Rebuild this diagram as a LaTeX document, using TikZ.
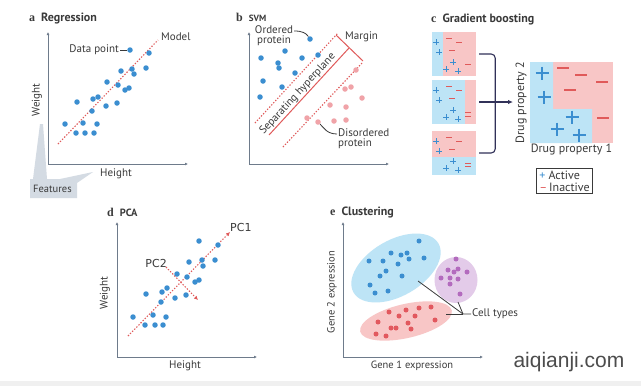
\documentclass[tikz,border=0pt]{standalone}
\usepackage{fontspec}
\setmainfont{PT Sans}
\newfontfamily\letterfont{Liberation Serif}
\newfontfamily\pcfont{DejaVu Sans}
\newfontfamily\markfont{Liberation Sans}
\usetikzlibrary{positioning,arrows.meta,shapes.geometric}

\definecolor{dotblue}{HTML}{3B8ED0}
\definecolor{linered}{HTML}{E05A5A}
\definecolor{dotpink}{HTML}{F0A3A8}
\definecolor{dotred}{HTML}{E2585E}
\definecolor{dotpurple}{HTML}{B36BBE}
\definecolor{fillblue}{HTML}{BDE4F6}
\definecolor{fillpink}{HTML}{F8C6C6}
\definecolor{fillpurple}{HTML}{E3CBE9}
\definecolor{axisgray}{HTML}{6E7B8B}
\definecolor{txtdark}{HTML}{3A3A3A}
\definecolor{callgray}{HTML}{D4DBE3}

\tikzset{
  dotb/.style={circle,fill=dotblue,inner sep=0pt,minimum size=5.5pt},
  dotp/.style={dotb,fill=dotpink},
  axis/.style={draw=axisgray,line width=1pt,{Latex[length=3pt,width=3pt]}-{Latex[length=3pt,width=3pt]}},
  redline/.style={draw=linered,line width=1.1pt,dash pattern=on 1.3pt off 1.7pt},
  panel/.style={anchor=west,font=\bfseries\fontsize{12}{13}\selectfont,text=txtdark,inner sep=0pt},
  lbl/.style={text=txtdark,inner sep=1pt,font=\fontsize{11}{12}\selectfont},
  pointer/.style={draw=txtdark,line width=0.8pt},
  bracket/.style={draw=txtdark!85!blue,line width=1.1pt,rounded corners=4pt},
  smallbox/.style={inner sep=0pt,minimum width=44pt,minimum height=44pt,fill=fillpink},
  plusmark/.pic={\draw[dotblue,line width=0.8pt] (-2.8,0)--(2.8,0) (0,-2.8)--(0,2.8);},
  minusmark/.pic={\draw[linered,line width=0.8pt] (-2.8,0)--(2.8,0);},
  bigplus/.pic={\draw[dotblue,line width=1.3pt] (-6.5,0)--(6.5,0) (0,-6.5)--(0,6.5);},
  bigminus/.pic={\draw[linered,line width=1.3pt] (-6,0)--(6,0);}
}

\begin{document}
\begin{tikzpicture}[x=1pt,y=-1pt]
\useasboundingbox (0,0) rectangle (641,386);
\fill[white] (0,0) rectangle (641,386);
\fill[gray!12] (0,381) rectangle (641,386);

% a Regression
\node[panel] (atitle) at (29,19) {{\letterfont a}\enspace Regression};
\fill[callgray] (30,198) -- (30,179) -- (33,179) -- (40,124) -- (43,124) -- (47,179)
  -- (60,179) -- (93,172) -- (77,183) -- (77,198) -- cycle;
\node[lbl,anchor=west,font=\fontsize{10.5}{12}\selectfont] (afeat) at (32,189) {Features};
\coordinate (aY) at (48,32); \coordinate (aO) at (48,164); \coordinate (aX) at (188,164);
\draw[axis] (aY) -- (aO) -- (aX);
\node[lbl,rotate=90] (aylab) at (37,100) {Weight};
\node[lbl] (axlab) at (116,174) {Height};
\coordinate (am1) at (58,144); \coordinate (am2) at (158,40);
\draw[redline] (am1) -- (am2);
\node[lbl,anchor=west] (amodel) at (160,37) {Model};
\foreach \px/\py in {65/124,77/102,76/133,83/123,85/133,94/133,97/124,92/111,
  93/99,98/97,106/106,107/82,117/103,118/85,121/71,125/90,129/88,132/69,134/74,146/68,149/53}
  \fill[dotblue] (\px,\py) circle (2.75);
\node[dotb] (adp) at (130,50) {};
\node[lbl,anchor=east] (adplab) at (120,50) {Data point};
\draw[pointer] (adplab.east) -- (adp.west);

% b SVM
\node[panel] (btitle) at (236,17) {{\letterfont b}\enspace\fontsize{9}{11}\selectfont SVM};
\coordinate (bY) at (249,32); \coordinate (bO) at (249,164); \coordinate (bX) at (389,164);
\draw[axis] (bY) -- (bO) -- (bX);
\coordinate (bu1) at (255,123); \coordinate (bu2) at (338,33);
\coordinate (bs1) at (269,135); \coordinate (bs2) at (349,48);
\coordinate (bl1) at (283,147); \coordinate (bl2) at (363,62);
\coordinate (bm1) at (336,35); \coordinate (bm2) at (363,61);
\draw[redline] (bu1) -- (bu2);
\draw[redline] (bl1) -- (bl2);
\draw[linered,line width=1pt] (bs1) -- node[lbl,sloped,above=0pt,pos=0.42] {Separating hyperplane} (bs2);
\draw[linered,line width=1pt] (bm1) -- (bm2);
\node[lbl,anchor=west] (bmargin) at (344,37) {Margin};
\foreach \px/\py in {261/58,285/51,278/63,279/68,302/58,318/55,295/73,263/81,282/87,260/97}
  \fill[dotblue] (\px,\py) circle (2.75);
\foreach \px/\py in {356/70,345/89,351/87,362/98,330/105,346/107,307/118,334/121,346/120}
  \fill[dotpink] (\px,\py) circle (2.75);
\node[dotb] (bodot) at (310,39) {};
\node[dotp] (bddot) at (318,122) {};
\node[lbl,align=center] (bop) at (274,36) {Ordered\\[-2pt]protein};
\node[lbl,align=left,anchor=west] (bdp) at (337,139) {Disordered\\[-2pt]protein};
\draw[pointer] ([yshift=5pt]bop.east) .. controls +(8,0) and +(-4,-6) .. (bodot);
\draw[pointer] ([yshift=5pt]bdp.west) .. controls +(-10,0) and +(6,6) .. (bddot);

% c Gradient boosting
\node[panel] (ctitle) at (431,19) {{\letterfont c}\enspace Gradient boosting};
\node[smallbox] (c1) at (454,54) {};
\node[smallbox] (c2) at (454,102) {};
\node[smallbox] (c3) at (454,153) {};
\fill[fillblue] (432,32) rectangle (443,76);
\fill[fillblue] (432,80) rectangle (465,124);
\fill[fillblue] (432,157) rectangle (476,175);
\foreach \dy in {0,48,99} {
  \foreach \px/\py in {436/42,439/52,453/62,446/69,458/71}
    \pic at (\px,\py+\dy) {plusmark};
  \foreach \px/\py in {449/38,459/42,452/50,468/64}
    \pic at (\px,\py+\dy) {minusmark};
}
\pic at (468,116) {minusmark};
\pic at (468,166) {minusmark};
\draw[bracket] ([xshift=3pt]c1.east) -- ++(16,0) |- ([xshift=3pt]c3.east);
\coordinate (carr) at (513,102);
\draw[bracket,-{Latex[length=5pt,width=4.5pt]}] ([xshift=3pt]c2.east) -- (carr);
\node[inner sep=0pt,minimum width=83pt,minimum height=81pt,fill=fillpink] (cbig) at (571.5,102.5) {};
\fill[fillblue] (530,62) -- (553,62) -- (553,109) -- (592,109) -- (592,143) -- (530,143) -- cycle;
\foreach \px/\py in {542/73,544/97,572/117,557/129,579/135}
  \pic at (\px,\py) {bigplus};
\foreach \px/\py in {563/68,581/75,602/82,570/90,603/118}
  \pic at (\px,\py) {bigminus};
\node[lbl,rotate=90,anchor=south,font=\fontsize{12}{13}\selectfont] (cylab) at ([xshift=-2pt]cbig.west) {Drug property 2};
\node[lbl,below=0pt of cbig,font=\fontsize{12}{13}\selectfont] (cxlab) {Drug property 1};
\node[lbl,draw=txtdark,line width=0.8pt,align=left,inner sep=2.5pt,font=\fontsize{12}{12}\selectfont]
  (clegend) at (564.5,181) {{\color{dotblue}+} Active\\{\color{linered}\textendash}\,Inactive};

% d PCA
\node[panel] (dtitle) at (107,212) {{\letterfont d}\enspace\fontsize{10.5}{12}\selectfont PCA};
\coordinate (dY) at (117,222); \coordinate (dO) at (117,357); \coordinate (dX) at (257,357);
\draw[axis] (dY) -- (dO) -- (dX);
\node[lbl,rotate=90] (dylab) at (105,293) {Weight};
\node[lbl] (dxlab) at (185,366) {Height};
\coordinate (dp1s) at (128,336); \coordinate (dp1e) at (230,232);
\coordinate (dp2s) at (166,267); \coordinate (dp2e) at (198,300);
\draw[redline,-{Latex[length=4pt,width=4pt]}] (dp1s) -- (dp1e);
\draw[redline,-{Latex[length=4pt,width=4pt]}] (dp2s) -- (dp2e);
\foreach \px/\py in {133/317,146/294,145/325,153/315,155/325,163/325,166/317,161/302,
  162/292,167/288,175/298,177/274,186/295,187/277,189/262,195/282,199/280,199/241,202/260,
  203/266,215/260,218/245}
  \fill[dotblue] (\px,\py) circle (2.75);
\node[lbl,anchor=south west,font=\pcfont\fontsize{11}{12}\selectfont] (dpc1) at (229,233) {PC1};
\node[lbl,anchor=south east,font=\pcfont\fontsize{11}{12}\selectfont] (dpc2) at (168,269) {PC2};

% e Clustering
\node[panel] (etitle) at (330,212) {{\letterfont e}\enspace Clustering};
\coordinate (eY) at (343,222); \coordinate (eO) at (343,357); \coordinate (eX) at (483,357);
\draw[axis] (eY) -- (eO) -- (eX);
\node[lbl,rotate=90,font=\fontsize{10.5}{11}\selectfont] (eylab) at (332,292) {Gene 2 expression};
\node[lbl,font=\fontsize{10.5}{11}\selectfont] (exlab) at (412,366) {Gene 1 expression};
\node[ellipse,fill=fillblue,minimum width=98pt,minimum height=56pt,rotate=30,inner sep=0pt] (eblue) at (396,268) {};
\node[ellipse,fill=fillpurple,minimum width=43pt,minimum height=46pt,inner sep=0pt] (epurple) at (456,280) {};
\node[ellipse,fill=fillpink,minimum width=94pt,minimum height=34pt,rotate=13,inner sep=0pt] (epink) at (406,321) {};
\foreach \px/\py in {419/241,369/261,383/261,391/253,401/255,407/253,409/259,424/258,
  398/264,386/271,380/276,402/276,370/285,375/293,388/291}
  \fill[dotblue] (\px,\py) circle (2.5);
\foreach \px/\py in {456/259,448/270,458/269,454/272,467/272,441/278,450/278,458/279,450/284,460/294}
  \fill[dotpurple] (\px,\py) circle (2.5);
\foreach \px/\py in {431/307,419/308,406/310,389/312,399/316,415/316,378/322,408/323,
  435/320,391/328,396/328,411/329,376/334,386/336}
  \fill[dotred] (\px,\py) circle (2.5);
\coordinate (ejoin) at (463,314);
\coordinate (etoblue) at (418,281);
\coordinate (etopurple) at (458,302);
\coordinate (etopink) at (446,314);
\node[lbl,anchor=west] (ecell) at (471,314) {Cell types};
\draw[pointer] (etoblue) -- (ejoin) -- (ecell.west);
\draw[pointer] (etopurple) -- (ejoin);
\draw[pointer] (etopink) -- (ejoin);

% watermark
\node[text=black!70,font=\markfont\fontsize{21}{24}\selectfont] (mark) at (569,362) {aiqianji.com};
\end{tikzpicture}
\end{document}
